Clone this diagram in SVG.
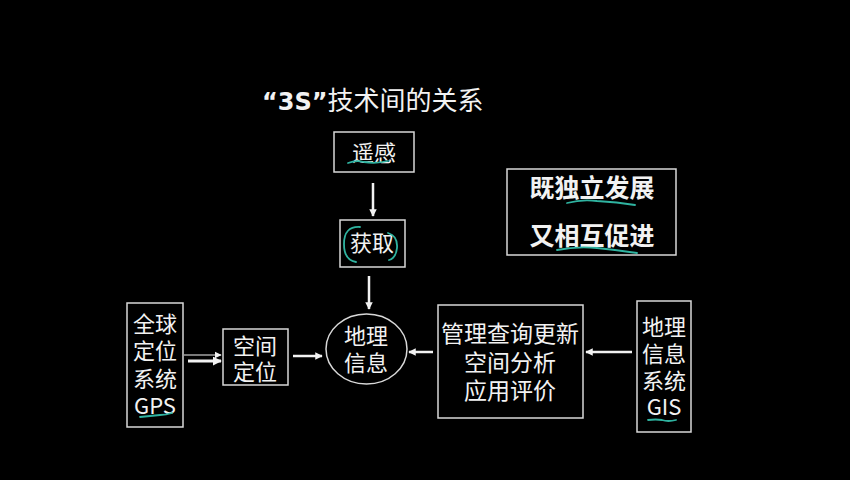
<svg xmlns="http://www.w3.org/2000/svg" width="850" height="480" viewBox="0 0 850 480">
<style>
.bx{fill:none;stroke:#d8d8d8;stroke-width:1.5}
.t{font-family:"Noto Sans CJK SC","Liberation Sans",sans-serif;fill:#f2f2f2;font-size:22px;text-anchor:middle}
.big{font-size:25px;font-weight:bold}
.ln{stroke:#f2f2f2;fill:none}
.an{fill:none;stroke:#2fb3a0;stroke-width:1.8;stroke-linecap:round}
</style>
<defs>
<marker id="ah" viewBox="0 0 10 10" refX="9" refY="5" markerWidth="3" markerHeight="3" orient="auto" markerUnits="strokeWidth">
<path d="M0,0 L10,5 L0,10 z" fill="#f2f2f2"/>
</marker>
<marker id="ah2" viewBox="0 0 10 10" refX="9" refY="5" markerWidth="6" markerHeight="6" orient="auto" markerUnits="strokeWidth">
<path d="M0,0 L10,5 L0,10 z" fill="#f2f2f2"/>
</marker>
</defs>
<rect width="850" height="480" fill="#000"/>
<text x="262" y="110" style="font-family:'Noto Sans CJK SC','Liberation Sans',sans-serif;font-size:26px;fill:#f2f2f2"><tspan style="font-family:'DejaVu Sans','Liberation Sans',sans-serif;font-weight:bold;font-size:24px">“3S”</tspan>技术间的关系</text>

<g id="yaogan">
<rect class="bx" x="334" y="132" width="80" height="40"/>
<text class="t" x="374" y="161">遥感</text>
<path class="an" d="M348,163 q8,-3 16,-1 q12,2 24,-1"/>
</g>
<g id="huoqu">
<rect class="bx" x="340" y="220" width="65" height="47"/>
<text class="t" x="372" y="251">获取</text>
<path class="an" d="M360,227 q-16,-1 -16,17 q0,16 12,18"/>
<path class="an" d="M388,233 q10,3 9,15 q-1,10 -8,12"/>
</g>
<g id="guanxi">
<rect class="bx" x="507" y="169" width="169" height="86"/>
<text class="t big" x="592" y="197">既独立发展</text>
<text class="t big" x="592" y="245">又相互促进</text>
<path class="an" d="M567,203 q15,-4 30,-2 q20,1 38,4"/>
<path class="an" d="M557,250 q20,-4 40,-2 q20,2 40,5"/>
</g>
<g id="gps">
<rect class="bx" x="127" y="303" width="56" height="124"/>
<text class="t"><tspan x="155" y="332">全球</tspan><tspan x="155" y="359">定位</tspan><tspan x="155" y="387">系统</tspan><tspan x="155" y="414">GPS</tspan></text>
<path class="an" d="M140,417 q10,-1 20,-2 q6,0 12,-2"/>
</g>
<g id="kongjian">
<rect class="bx" x="223" y="329" width="65" height="56"/>
<text class="t"><tspan x="255" y="354">空间</tspan><tspan x="255" y="380">定位</tspan></text>
</g>
<g id="dili">
<ellipse class="bx" cx="366.5" cy="349" rx="40.5" ry="35"/>
<text class="t"><tspan x="366" y="344">地理</tspan><tspan x="366" y="371">信息</tspan></text>
</g>
<g id="guanli">
<rect class="bx" x="438" y="305" width="145" height="113"/>
<text class="t" style="font-size:23px"><tspan x="510" y="342">管理查询更新</tspan><tspan x="510" y="371">空间分析</tspan><tspan x="510" y="399">应用评价</tspan></text>
</g>
<g id="gis">
<rect class="bx" x="637" y="301" width="54" height="131"/>
<text class="t"><tspan x="664" y="335">地理</tspan><tspan x="664" y="362">信息</tspan><tspan x="664" y="389">系统</tspan><tspan x="664" y="415">GIS</tspan></text>
<path class="an" d="M648,420 q8,-1 14,0 q6,2 14,0"/>
</g>
<g id="connectors">
<line class="ln" x1="373" y1="183" x2="373" y2="216" stroke-width="2.5" marker-end="url(#ah)"/>
<line class="ln" x1="369" y1="276" x2="369" y2="309" stroke-width="2.5" marker-end="url(#ah)"/>
<line class="ln" x1="184" y1="355" x2="221" y2="355" stroke-width="1.2" marker-end="url(#ah2)"/>
<line class="ln" x1="188" y1="361" x2="221" y2="361" stroke-width="3" marker-end="url(#ah)"/>
<line class="ln" x1="293" y1="356" x2="322" y2="356" stroke-width="2.5" marker-end="url(#ah)"/>
<line class="ln" x1="433" y1="352" x2="409" y2="352" stroke-width="2.5" marker-end="url(#ah)"/>
<line class="ln" x1="632" y1="352" x2="586" y2="352" stroke-width="2.5" marker-end="url(#ah)"/>
</g>
</svg>
